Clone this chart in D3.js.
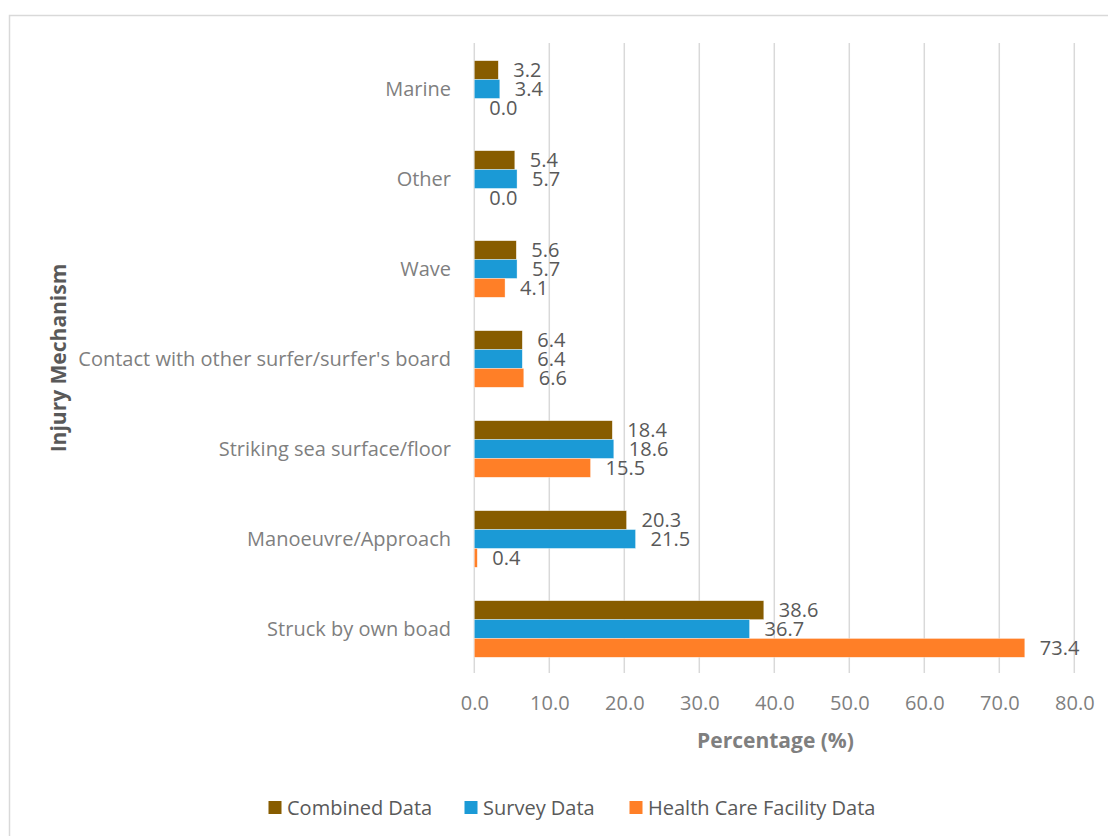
<!DOCTYPE html>
<html>
<head>
<meta charset="utf-8">
<script src="https://cdn.jsdelivr.net/npm/d3@7"></script>
<style>
  html, body { margin: 0; padding: 0; background: #fff; }
  svg { display: block; font-family: "Open Sans", sans-serif; }
</style>
</head>
<body>
<svg id="chart" width="1108" height="836"></svg>
<script>
const categories = ["Marine", "Other", "Wave", "Contact with other surfer/surfer's board",
  "Striking sea surface/floor", "Manoeuvre/Approach", "Struck by own boad"];
const seriesNames = ["Combined Data", "Survey Data", "Health Care Facility Data"];
const combined = [3.2, 5.4, 5.6, 6.4, 18.4, 20.3, 38.6];
const survey = [3.4, 5.7, 5.7, 6.4, 18.6, 21.5, 36.7];
const healthCare = [0.0, 0.0, 4.1, 6.6, 15.5, 0.4, 73.4];
const xTicks = [0, 10, 20, 30, 40, 50, 60, 70, 80];
const colors = ["#875c00", "#1b9ad6", "#ff7f27"];

const seriesValues = [combined, survey, healthCare];
const rows = categories.map((c, i) => ({
  cat: c,
  vals: seriesNames.map((s, j) => ({ s, j, v: seriesValues[j][i] }))
}));

const svg = d3.select("#chart");

// outer border
svg.append("rect")
  .attr("x", 9.5).attr("y", 15.5)
  .attr("width", 1200).attr("height", 900)
  .attr("fill", "none").attr("stroke", "#d9d9d9").attr("stroke-width", 1.5);

const x = d3.scaleLinear().domain([0, 80]).range([474.3, 1074.3]);
const y0 = d3.scaleBand().domain(categories).range([44, 674]).paddingInner(0).paddingOuter(0);
const y1 = d3.scaleBand().domain(seriesNames).range([16.7, 73.3]).padding(0);

// gridlines
svg.append("g").selectAll("line").data(xTicks).join("line")
  .attr("x1", d => x(d)).attr("x2", d => x(d))
  .attr("y1", 43).attr("y2", 673)
  .attr("stroke", "#d9d9d9").attr("stroke-width", 1.5);

// x axis tick labels
const xAxis = d3.axisBottom(x).tickValues(xTicks).tickFormat(d3.format(".1f")).tickSize(0).tickPadding(0);
const gx = svg.append("g").attr("transform", "translate(0,710)").call(xAxis);
gx.select(".domain").remove();
gx.selectAll("text")
  .attr("dy", null).attr("y", 0)
  .attr("font-family", "Open Sans").attr("font-size", 20).attr("fill", "#7f7f7f");

// y axis category labels
const yAxis = d3.axisLeft(y0).tickSize(0).tickPadding(0);
const gy = svg.append("g").attr("transform", "translate(451,0)").call(yAxis);
gy.select(".domain").remove();
gy.selectAll("text")
  .attr("dy", "0.35em").attr("x", 0)
  .attr("font-family", "Open Sans").attr("font-size", 20).attr("fill", "#7f7f7f");

// bars
const groups = svg.append("g").selectAll("g").data(rows).join("g")
  .attr("transform", d => `translate(0,${y0(d.cat)})`);

groups.selectAll("rect").data(d => d.vals).join("rect")
  .attr("x", x(0))
  .attr("y", d => y1(d.s))
  .attr("width", d => x(d.v) - x(0))
  .attr("height", y1.bandwidth())
  .attr("fill", d => colors[d.j])
  .attr("stroke", "#ffffff").attr("stroke-width", 0.6).attr("stroke-opacity", 0.6);

groups.selectAll("text").data(d => d.vals).join("text")
  .attr("x", d => x(d.v) + 15)
  .attr("y", d => y1(d.s) + y1.bandwidth() / 2)
  .attr("dy", "0.35em")
  .attr("font-family", "Open Sans").attr("font-size", 20).attr("fill", "#595959")
  .text(d => d3.format(".1f")(d.v));

// axis titles
svg.append("text")
  .attr("x", 775.5).attr("y", 748)
  .attr("text-anchor", "middle")
  .attr("font-family", "Open Sans").attr("font-weight", "bold").attr("font-size", 21)
  .attr("fill", "#7f7f7f")
  .text("Percentage (%)");

svg.append("text")
  .attr("transform", "translate(66,358) rotate(-90)")
  .attr("text-anchor", "middle")
  .attr("font-family", "Open Sans").attr("font-weight", "bold").attr("font-size", 21)
  .attr("fill", "#595959")
  .text("Injury Mechanism");

// legend
const legendX = [268.5, 464.5, 629.5];
const lg = svg.append("g").selectAll("g").data(seriesNames).join("g")
  .attr("transform", (d, i) => `translate(${legendX[i]},801)`);
lg.append("rect").attr("width", 13).attr("height", 13).attr("fill", (d, i) => colors[i]);
lg.append("text")
  .attr("x", 18.5).attr("y", 6.5).attr("dy", "0.35em")
  .attr("font-family", "Open Sans").attr("font-size", 20).attr("fill", "#595959")
  .text(d => d);
</script>
</body>
</html>
